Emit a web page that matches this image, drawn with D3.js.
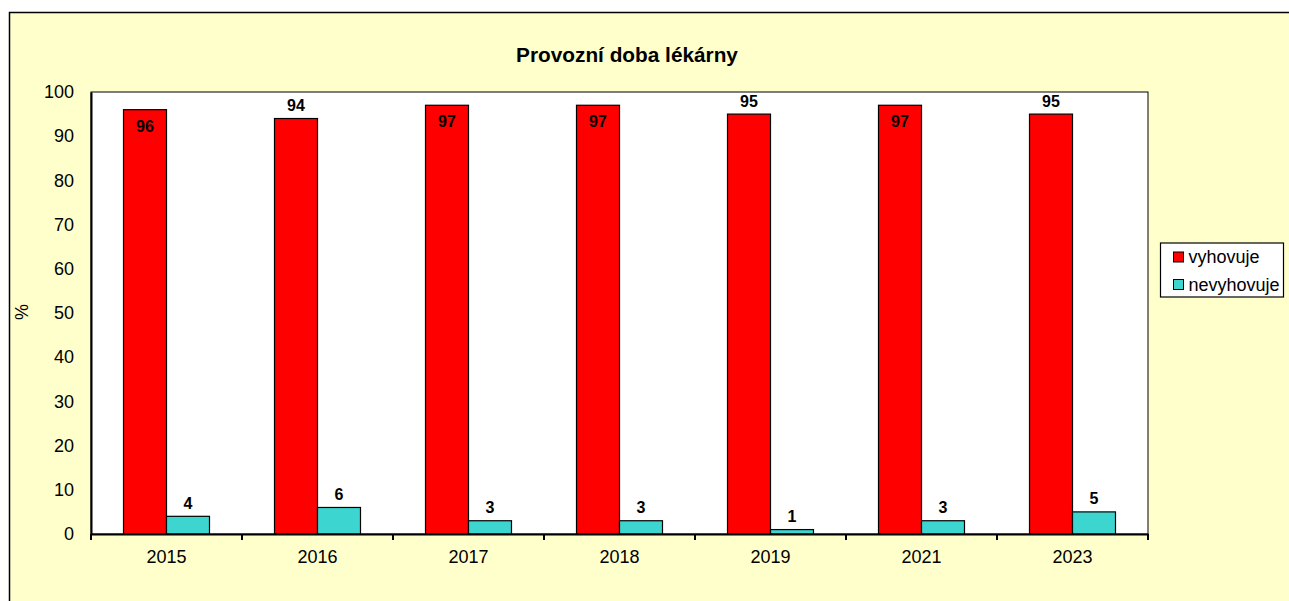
<!DOCTYPE html>
<html>
<head>
<meta charset="utf-8">
<script src="https://cdn.jsdelivr.net/npm/d3@7"></script>
<style>
  body { margin: 0; background: #fff; }
  text { font-family: "Liberation Sans", Arial, sans-serif; }
</style>
</head>
<body>
<div class="chart"></div>
<script>
// data
const years = ["2015", "2016", "2017", "2018", "2019", "2021", "2023"];
const vyhovuje = [96, 94, 97, 97, 95, 97, 95];
const nevyhovuje = [4, 6, 3, 3, 1, 3, 5];
const keys = ["vyhovuje", "nevyhovuje"];
const yTicks = [0, 10, 20, 30, 40, 50, 60, 70, 80, 90, 100];

const data = years.map((y, i) => ({ year: y, vyhovuje: vyhovuje[i], nevyhovuje: nevyhovuje[i] }));

const margin = { top: 92, left: 91 },
  width = 1148 - 91,
  height = 534 - 92;

const svg = d3
  .select(".chart")
  .append("svg")
  .attr("width", 1289)
  .attr("height", 601);

// outer frame (runs off the right and bottom edge)
svg
  .append("rect")
  .attr("x", 9.5)
  .attr("y", 12.5)
  .attr("width", 1300)
  .attr("height", 620)
  .attr("fill", "#FFFFCC")
  .attr("stroke", "#000")
  .attr("stroke-width", 1.5);

svg
  .append("text")
  .attr("x", 627)
  .attr("y", 62)
  .attr("text-anchor", "middle")
  .style("font-size", "20.8px")
  .style("font-weight", "bold")
  .text("Provozní doba lékárny");

const g = svg.append("g").attr("transform", `translate(${margin.left},${margin.top})`);

g.append("rect")
  .attr("width", width)
  .attr("height", height)
  .attr("fill", "#fff")
  .attr("stroke", "#000")
  .attr("stroke-width", 1);

const x0 = d3.scaleBand(years, [0, width]);
const x1 = d3.scaleBand(keys, [0, x0.bandwidth()]).paddingOuter(0.756);
const y = d3.scaleLinear().domain([0, 100]).range([height, 0]);

const color = d3.scaleOrdinal().domain(keys).range(["#FF0000", "#3DD5D0"]);

// bars
const groups = g
  .selectAll(".grp")
  .data(data)
  .join("g")
  .attr("class", "grp")
  .attr("transform", (d) => `translate(${x0(d.year)},0)`);

groups
  .selectAll("rect")
  .data((d) => keys.map((k) => ({ key: k, value: d[k] })))
  .join("rect")
  .attr("x", (d) => x1(d.key))
  .attr("y", (d) => y(d.value))
  .attr("width", x1.bandwidth())
  .attr("height", (d) => height - y(d.value))
  .attr("fill", (d) => color(d.key))
  .attr("stroke", "#000")
  .attr("stroke-width", 1.2);

// value labels: above the bar, or inside when no room under the top edge
groups
  .selectAll(".lbl")
  .data((d) => keys.map((k) => ({ key: k, value: d[k] })))
  .join("text")
  .attr("class", "lbl")
  .attr("x", (d) => x1(d.key) + x1.bandwidth() / 2)
  .attr("y", (d) => (y(d.value) - 20 < 0 ? y(d.value) + 22 : y(d.value) - 7.5))
  .attr("text-anchor", "middle")
  .style("font-size", "16px")
  .style("font-weight", "bold")
  .text((d) => d.value);

// x axis
const xAxis = g
  .append("g")
  .attr("transform", `translate(0,${height})`)
  .call(d3.axisBottom(x0).tickSize(0).tickPadding(16));
xAxis.select(".domain").attr("stroke", "#000").attr("stroke-width", 2);
xAxis.selectAll("text").style("font-size", "18px").style("font-family", "'Liberation Sans', Arial, sans-serif").attr("fill", "#000");

g.append("g")
  .selectAll("line")
  .data(years.concat(["end"]))
  .join("line")
  .attr("x1", (d, i) => (i < years.length ? x0(d) : width))
  .attr("x2", (d, i) => (i < years.length ? x0(d) : width))
  .attr("y1", height)
  .attr("y2", height + 6)
  .attr("stroke", "#000")
  .attr("stroke-width", 2);

// y axis
const yAxis = g
  .append("g")
  .call(d3.axisLeft(y).tickValues(yTicks).tickSize(0).tickPadding(17));
yAxis.select(".domain").attr("stroke", "#000").attr("stroke-width", 2);
yAxis.selectAll("text").style("font-size", "18px").style("font-family", "'Liberation Sans', Arial, sans-serif").attr("fill", "#000");

svg
  .append("text")
  .attr("transform", "translate(28,312) rotate(-90)")
  .attr("text-anchor", "middle")
  .style("font-size", "18px")
  .text("%");

// legend
const legend = svg.append("g").attr("transform", "translate(1160.5,243)");
legend
  .append("rect")
  .attr("width", 123)
  .attr("height", 54)
  .attr("fill", "#fff")
  .attr("stroke", "#000")
  .attr("stroke-width", 1.2);

const item = legend
  .selectAll(".item")
  .data(keys)
  .join("g")
  .attr("class", "item")
  .attr("transform", (d, i) => `translate(13,${9 + i * 27.5})`);

item
  .append("rect")
  .attr("width", 10)
  .attr("height", 10)
  .attr("fill", color)
  .attr("stroke", "#000")
  .attr("stroke-width", 1);

item
  .append("text")
  .attr("x", 15)
  .attr("y", 11)
  .style("font-size", "18px")
  .text((d) => d);
</script>
</body>
</html>
